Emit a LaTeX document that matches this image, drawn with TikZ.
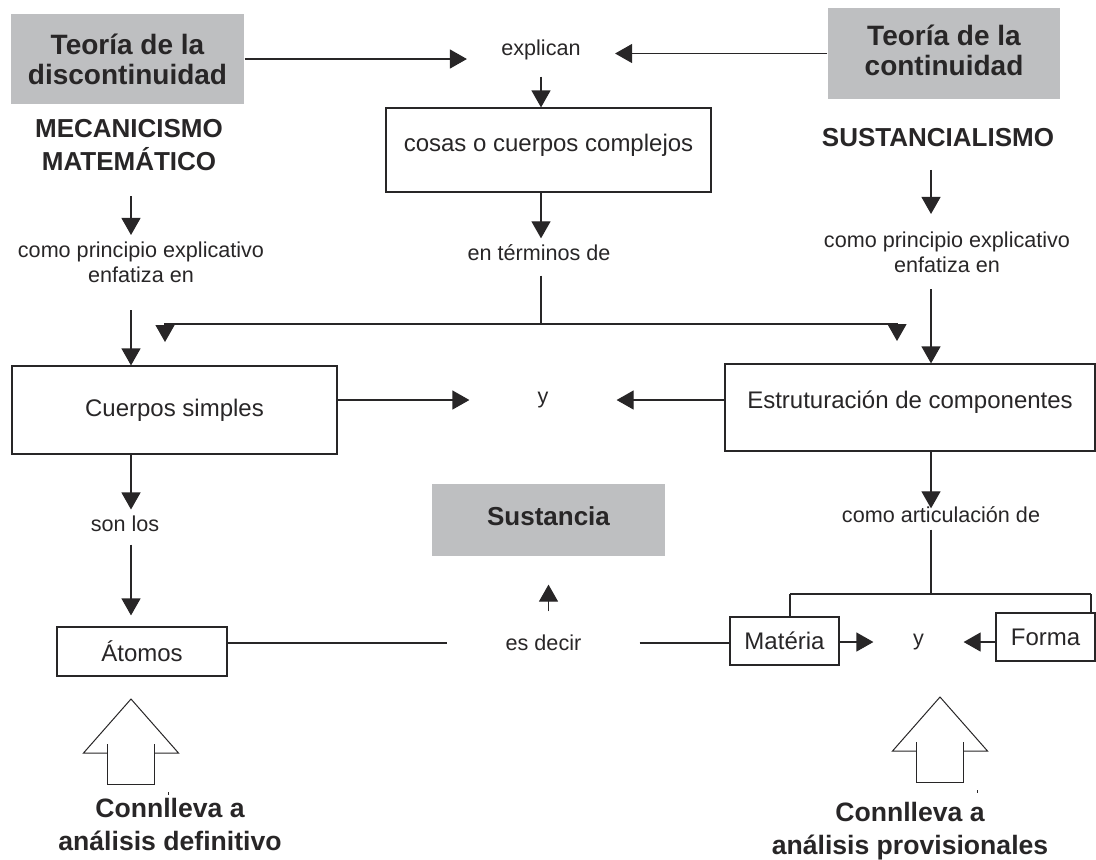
\documentclass[tikz,border=0pt]{standalone}
\usepackage{fontspec}
\setmainfont{Liberation Sans}
\usepackage{xcolor}
\usepackage{tikz}
\usetikzlibrary{arrows.meta}

\definecolor{boxgray}{RGB}{190,191,193}
\definecolor{ink}{RGB}{40,38,39}

\begin{document}
\begin{tikzpicture}[x=0.5pt, y=-0.5pt, ink, line width=0.6pt,
  arr/.style={-{Triangle[length=8.5pt,width=9.5pt]}},
  graybox/.style={fill=boxgray, align=center, font=\bfseries\fontsize{14}{15}\selectfont, inner sep=0pt},
  plainbox/.style={draw, font=\fontsize{12}{14}\selectfont, inner sep=0pt},
  headtxt/.style={align=center, font=\bfseries\fontsize{13}{16.5}\selectfont, inner sep=3pt},
  smalltxt/.style={align=center, font=\fontsize{10.8}{12.5}\selectfont, inner sep=3pt},
  raised/.style={text height=9pt, text depth=7.6pt},
  fatarrow/.style={line width=0.5pt}]
 \useasboundingbox (0,0) rectangle (1096,859);

 % columns and joints
 \coordinate (colL) at (131,0);
 \coordinate (colC) at (541,0);
 \coordinate (colR) at (931,0);
 \coordinate (split) at (541,324);
 \coordinate (hL) at (165,342);
 \coordinate (hR) at (897,341);
 \coordinate (brk) at (931,594);
 \coordinate (brkL) at (790,594);
 \coordinate (brkR) at (1091,594);

 % top row
 \node[graybox, minimum width=116.5pt, minimum height=45pt] (discont) at (127.5,59) {Teoría de la\\discontinuidad};
 \node[graybox, text depth=3.5pt, minimum width=116pt, minimum height=45.5pt] (contin) at (944,53.5) {Teoría de la\\continuidad};
 \node[smalltxt, minimum width=73.5pt] (explican) at (541,50) {explican};
 \node[plainbox, raised, minimum width=162.5pt, minimum height=42pt] (cosas) at (548.5,150) {cosas o cuerpos complejos};
 \node[smalltxt] (terminos) at (539,253) {en términos de};
 \node[headtxt] (mecan) at (129,145) {MECANICISMO\\MATEMÁTICO};
 \node[headtxt] (sustan) at (938,138) {SUSTANCIALISMO};
 \node[smalltxt] (enfL) at (141,262) {como principio explicativo\\enfatiza en};
 \node[smalltxt] (enfR) at (947,252) {como principio explicativo\\enfatiza en};

 % middle row
 \node[plainbox, minimum width=162.5pt, minimum height=44pt] (cuerpos) at (174.5,410) {Cuerpos simples};
 \node[smalltxt, minimum width=73pt] (ytop) at (543,400) {y};
 \node[plainbox, raised, text depth=8pt, minimum width=185pt, minimum height=43.5pt] (estrut) at (910,407.5) {Estruturación de componentes};
 \node[smalltxt] (sonlos) at (125,524) {son los};
 \node[graybox, font=\bfseries\fontsize{13}{15}\selectfont, text height=9.5pt, text depth=4pt,
   minimum width=116.5pt, minimum height=36pt] (sustancia) at (548.5,520) {Sustancia};
 \node[smalltxt] (articul) at (941,515) {como articulación de};

 % bottom row
 \node[plainbox, minimum width=85pt, minimum height=24.5pt] (atomos) at (142,651.5) {Átomos};
 \node[smalltxt, minimum width=95.5pt, minimum height=31pt] (esdecir) at (543.5,643) {es decir};
 \node[plainbox, minimum width=54.5pt, minimum height=24pt] (materia) at (784.5,641) {Matéria};
 \node[smalltxt, minimum width=44.5pt] (ybot) at (918.5,642) {y};
 \node[plainbox, minimum width=49.5pt, minimum height=24pt] (forma) at (1045.5,637) {Forma};
 \node[headtxt, font=\bfseries\fontsize{13.3}{16.5}\selectfont] (conllL) at (170,824) {Connlleva a\\análisis definitivo};
 \node[headtxt, font=\bfseries\fontsize{13.3}{16.5}\selectfont] (conllR) at (910,831) {Connlleva a\\análisis provisionales};

 % connectors
 \draw[arr] (discont.east) -- (discont.east -| explican.west);
 \draw[arr] (contin.west) -- (contin.west -| explican.east);
 \draw[arr, shorten <=5pt] (explican.south -| colC) -- (cosas.north -| colC);
 \draw[arr] (cosas.south -| colC) -- (terminos.north -| colC);
 \draw[shorten <=4pt] (terminos.south -| colC) -- (split);
 \draw[arr] (split) -| (hL);
 \draw[arr] (split) -| (hR);
 \draw[arr, shorten <=9.5pt] (mecan.south -| colL) -- (enfL.north -| colL);
 \draw[arr, shorten <=10.5pt] (enfL.south -| colL) -- (cuerpos.north -| colL);
 \draw[arr, shorten <=8pt, shorten >=5.5pt] (sustan.south -| colR) -- (enfR.north -| colR);
 \draw[arr, shorten <=5pt] (enfR.south -| colR) -- (estrut.north -| colR);
 \draw[arr] (cuerpos.east |- ytop) -- (ytop.west);
 \draw[arr] (estrut.west |- ytop) -- (ytop.east);
 \draw[arr] (cuerpos.south -| colL) -- (sonlos.north -| colL);
 \draw[arr, shorten <=3pt, shorten >=5.5pt] (sonlos.south -| colL) -- (atomos.north -| colL);
 \draw[arr, shorten >=-4pt] (estrut.south -| colR) -- (articul.north -| colR);
 \draw (articul.south -| colR) -- (brk);
 \draw (brkL) -- (brkR);
 \draw (brkL) -- (brkL |- materia.north);
 \draw (brkR) -- (brkR |- forma.north);
 \draw (atomos.east |- esdecir) -- (esdecir.west);
 \draw (esdecir.east) -- (materia.west |- esdecir);
 \draw[arr, shorten >=14pt] (sustancia.south |- esdecir.north) -- (sustancia.south);
 \draw[arr] (materia.east |- ybot) -- (ybot.west);
 \draw[arr] (forma.west |- ybot) -- (ybot.east);

 % open block arrows
 \foreach \bx/\by in {131/699, 940/697} {
  \draw[fatarrow] (\bx-23.5,\by+54) -- (\bx-47.5,\by+54) -- (\bx,\by) -- (\bx+47.5,\by+54) -- (\bx+23.5,\by+54);
  \draw[fatarrow] (\bx-23.5,\by+45) -- (\bx-23.5,\by+85) -- (\bx+23.5,\by+85) -- (\bx+23.5,\by+45);
  \draw[fatarrow] (\bx+37,\by+93) -- (\bx+37,\by+96);
 }
\end{tikzpicture}
\end{document}
